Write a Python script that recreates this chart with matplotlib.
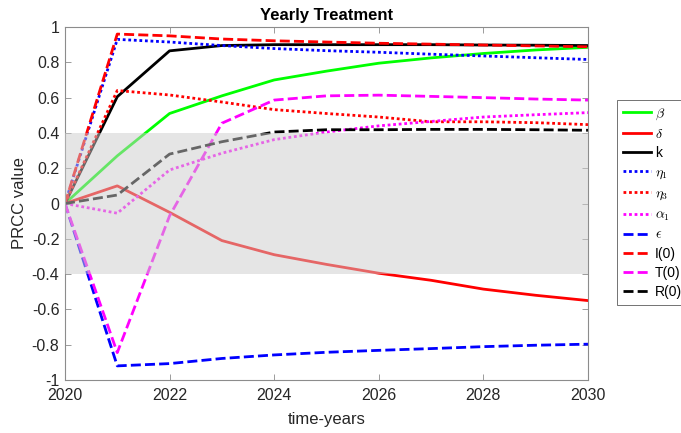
import matplotlib
matplotlib.use("Agg")
import matplotlib.pyplot as plt
import numpy as np

plt.rcParams['font.family'] = ['Liberation Sans', 'DejaVu Sans']
plt.rcParams['mathtext.fontset'] = 'cm'

years = [2020, 2021, 2022, 2023, 2024, 2025, 2026, 2027, 2028, 2029, 2030]

beta   = [0, 0.27, 0.51, 0.61, 0.70, 0.75, 0.795, 0.825, 0.85, 0.87, 0.885]
delta  = [0, 0.10, -0.05, -0.21, -0.29, -0.345, -0.395, -0.435, -0.485, -0.52, -0.55]
k      = [0, 0.605, 0.865, 0.895, 0.90, 0.90, 0.90, 0.90, 0.898, 0.897, 0.895]
eta1   = [0, 0.93, 0.915, 0.895, 0.878, 0.866, 0.857, 0.846, 0.836, 0.826, 0.816]
eta3   = [0, 0.64, 0.615, 0.575, 0.532, 0.51, 0.49, 0.463, 0.463, 0.458, 0.447]
alpha1 = [0, -0.055, 0.19, 0.285, 0.362, 0.405, 0.44, 0.465, 0.49, 0.503, 0.515]
eps    = [0, -0.92, -0.907, -0.878, -0.858, -0.843, -0.832, -0.822, -0.811, -0.803, -0.797]
I0     = [0, 0.96, 0.95, 0.932, 0.922, 0.915, 0.908, 0.903, 0.898, 0.893, 0.888]
T0     = [0, -0.845, -0.07, 0.455, 0.586, 0.61, 0.614, 0.607, 0.6, 0.592, 0.586]
R0     = [0, 0.048, 0.28, 0.35, 0.405, 0.418, 0.418, 0.42, 0.42, 0.418, 0.415]

labels = [r'$\beta$', r'$\delta$', 'k', r'$\eta_{\rm 1}$', r'$\eta_{\rm 3}$', r'$\alpha_{\rm 1}$',
          r'$\epsilon$', 'I(0)', 'T(0)', 'R(0)']
series = [beta, delta, k, eta1, eta3, alpha1, eps, I0, T0, R0]
colors = ['#00ff00', '#ff0000', '#000000', '#0000ff', '#ff0000', '#ff00ff',
          '#0000ff', '#ff0000', '#ff00ff', '#000000']
styles = ['solid', 'solid', 'solid', 'dot', 'dot', 'dot', 'dash', 'dash', 'dash', 'dash']

fig = plt.figure(figsize=(6.81, 4.33), dpi=100)
ax = fig.add_axes([0.0954, 0.1224, 0.768, 0.8152])

for y, lab, c, s in zip(series, labels, colors, styles):
    line, = ax.plot(years, y, color=c, lw=2.0, label=lab, zorder=2)
    if s == 'dot':
        line.set_dashes([1.0, 1.0])
        line.set_dash_capstyle('butt')
    elif s == 'dash':
        line.set_dashes([3.6, 1.5])

ax.axhspan(-0.4, 0.4, color='0.8', alpha=0.5, lw=0, zorder=3)

ax.set_xlim(2020, 2030)
ax.set_ylim(-1, 1)
ax.set_xticks([2020, 2022, 2024, 2026, 2028, 2030])
yt = np.round(np.arange(-1, 1.01, 0.2), 1)
ax.set_yticks(yt)
ax.set_yticklabels(['-1', '-0.8', '-0.6', '-0.4', '-0.2', '0', '0.2', '0.4', '0.6', '0.8', '1'])

ax.tick_params(direction='in', top=True, right=True, length=4, width=0.6,
               colors='0.55', labelcolor='0.15', labelsize=11.5)
ax.tick_params(axis='y', pad=4)
ax.tick_params(axis='x', pad=6)
for sp in ax.spines.values():
    sp.set_color('0.55')
    sp.set_linewidth(0.8)

ax.set_title('Yearly Treatment', fontsize=12, fontweight='bold', color='black', pad=5)
ax.set_xlabel('time-years', fontsize=12, color='0.15', labelpad=6)
ax.set_ylabel('PRCC value', fontsize=12, color='0.15', labelpad=3)

leg = fig.legend(loc='upper left', bbox_to_anchor=(0.906, 0.770), fontsize=10,
                 frameon=True, fancybox=False, edgecolor='0.2', handlelength=2.0,
                 labelspacing=0.36, borderpad=0.45, handletextpad=0.3,
                 borderaxespad=0)
leg.get_frame().set_linewidth(0.6)

fig.savefig('out.png', dpi=100)
